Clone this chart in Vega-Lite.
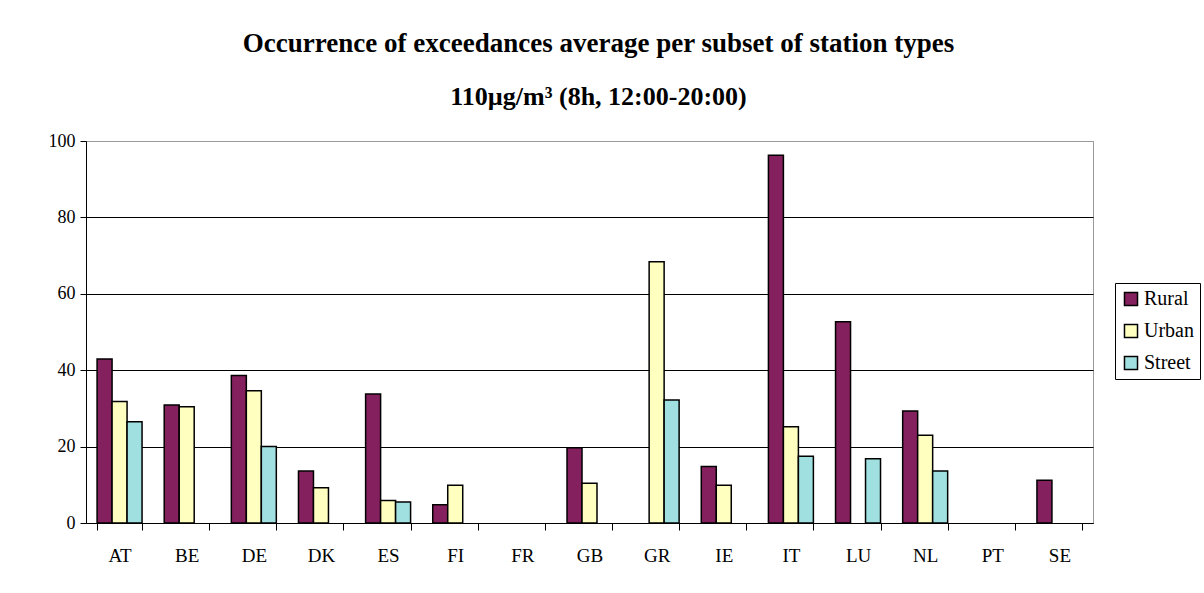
{
  "$schema": "https://vega.github.io/schema/vega-lite/v6.json",
  "autosize": "none",
  "width": 1007,
  "height": 382,
  "padding": {"left": 86, "top": 141, "right": 111, "bottom": 70},
  "background": "white",
  "title": {
    "text": "Occurrence of exceedances average per subset of station types",
    "subtitle": "110µg/m³ (8h, 12:00-20:00)",
    "anchor": "middle",
    "frame": "group",
    "dx": 9,
    "offset": 21,
    "font": "Liberation Serif",
    "fontSize": 27,
    "fontWeight": "bold",
    "color": "black",
    "subtitleFont": "Liberation Serif",
    "subtitleFontSize": 26,
    "subtitleFontWeight": "bold",
    "subtitleColor": "black",
    "subtitlePadding": 26
  },
  "config": {
    "view": {"stroke": "#999", "strokeWidth": 1},
    "font": "Liberation Serif"
  },
  "data": {
    "values": [
      {"country": "AT", "type": "Rural", "value": 42.9},
      {"country": "AT", "type": "Urban", "value": 31.8},
      {"country": "AT", "type": "Street", "value": 26.5},
      {"country": "BE", "type": "Rural", "value": 30.9},
      {"country": "BE", "type": "Urban", "value": 30.4},
      {"country": "DE", "type": "Rural", "value": 38.6},
      {"country": "DE", "type": "Urban", "value": 34.6},
      {"country": "DE", "type": "Street", "value": 20.0},
      {"country": "DK", "type": "Rural", "value": 13.6},
      {"country": "DK", "type": "Urban", "value": 9.2},
      {"country": "ES", "type": "Rural", "value": 33.8},
      {"country": "ES", "type": "Urban", "value": 5.9},
      {"country": "ES", "type": "Street", "value": 5.5},
      {"country": "FI", "type": "Rural", "value": 4.8},
      {"country": "FI", "type": "Urban", "value": 9.9},
      {"country": "GB", "type": "Rural", "value": 19.7},
      {"country": "GB", "type": "Urban", "value": 10.4},
      {"country": "GR", "type": "Urban", "value": 68.4},
      {"country": "GR", "type": "Street", "value": 32.2},
      {"country": "IE", "type": "Rural", "value": 14.8},
      {"country": "IE", "type": "Urban", "value": 9.9},
      {"country": "IT", "type": "Rural", "value": 96.3},
      {"country": "IT", "type": "Urban", "value": 25.2},
      {"country": "IT", "type": "Street", "value": 17.5},
      {"country": "LU", "type": "Rural", "value": 52.7},
      {"country": "LU", "type": "Street", "value": 16.8},
      {"country": "NL", "type": "Rural", "value": 29.3},
      {"country": "NL", "type": "Urban", "value": 23.0},
      {"country": "NL", "type": "Street", "value": 13.6},
      {"country": "SE", "type": "Rural", "value": 11.2}
    ]
  },
  "mark": {"type": "bar", "stroke": "black", "strokeWidth": 1.5},
  "encoding": {
    "x": {
      "field": "country",
      "type": "nominal",
      "scale": {
        "domain": ["AT","BE","DE","DK","ES","FI","FR","GB","GR","IE","IT","LU","NL","PT","SE"],
        "paddingInner": 0.33,
        "paddingOuter": 0.165
      },
      "axis": {
        "title": null,
        "labelAngle": 0,
        "labelFont": "Liberation Serif",
        "labelFontSize": 19,
        "labelColor": "black",
        "labelPadding": 16,
        "tickBand": "extent",
        "tickColor": "black",
        "tickSize": 7,
        "domainColor": "black",
        "domainWidth": 1
      }
    },
    "xOffset": {
      "field": "type",
      "type": "nominal",
      "scale": {"domain": ["Rural","Urban","Street"], "paddingInner": 0, "paddingOuter": 0}
    },
    "y": {
      "field": "value",
      "type": "quantitative",
      "scale": {"domain": [0, 100], "nice": false},
      "axis": {
        "title": null,
        "values": [0,20,40,60,80,100],
        "labelFont": "Liberation Serif",
        "labelFontSize": 18,
        "labelColor": "black",
        "labelPadding": 5,
        "tickColor": "black",
        "tickSize": 6,
        "domainColor": "black",
        "grid": true,
        "gridColor": {"condition": {"test": "datum.value == 100", "value": "#999"}, "value": "black"},
        "gridWidth": 1
      }
    },
    "color": {
      "field": "type",
      "type": "nominal",
      "scale": {"domain": ["Rural","Urban","Street"], "range": ["#84205E", "#FFFFC0", "#A0E0E0"]},
      "legend": {
        "title": null,
        "orient": "none",
        "legendX": 1029,
        "legendY": 142,
        "symbolType": "square",
        "symbolSize": 170,
        "symbolStrokeColor": "black",
        "symbolStrokeWidth": 1.5,
        "labelFont": "Liberation Serif",
        "labelFontSize": 20,
        "labelColor": "black",
        "labelOffset": 3,
        "rowPadding": 12,
        "padding": 6,
        "strokeColor": "black",
        "fillColor": "white"
      }
    }
  }
}
